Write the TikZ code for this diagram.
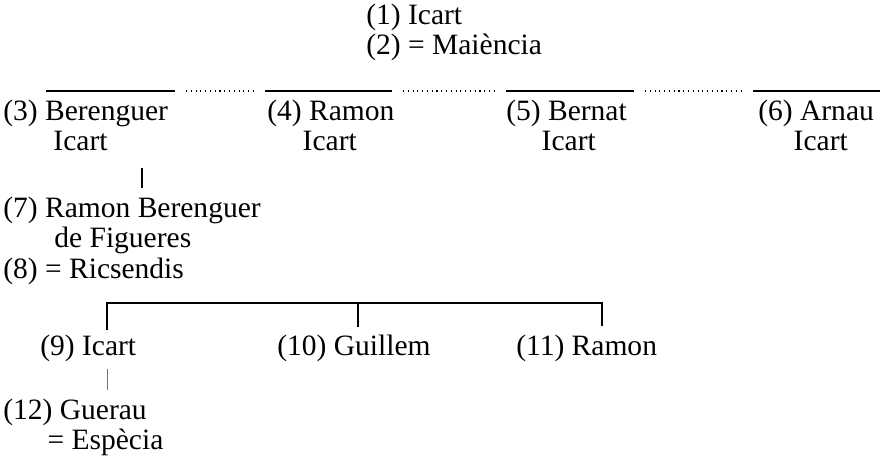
\documentclass[tikz,border=0pt]{standalone}
\usepackage{fontspec}
\setmainfont{Liberation Serif}
\usetikzlibrary{backgrounds}
\pgfdeclarelayer{edgelayer}
\pgfdeclarelayer{nodelayer}
\pgfsetlayers{edgelayer,nodelayer,main}
\tikzset{font=\fontsize{21}{21.34}\selectfont}
\tikzstyle{person}=[inner sep=0pt, anchor=north west, align=left]
\tikzstyle{bar}=[line width=1.3pt]
\tikzstyle{dots}=[line width=0.8pt, dash pattern=on 0.8pt off 2.6pt, shorten <=7.8pt, shorten >=7.8pt]
\tikzstyle{link}=[line width=0.9pt]

\begin{document}
\begin{tikzpicture}
	\useasboundingbox (0, 0) rectangle (22.05, -11.425);
	\begin{pgfonlayer}{nodelayer}
		\node [style=person] (n1) at (9.15, -0.09) {(1) Icart};
		\node [style=person] (n2) at (9.15, -0.84) {(2) = Maiència};
		\node [style=person] (n3) at (0.075, -2.49) {(3) Berenguer\\\hspace*{1.7em}Icart};
		\node [style=person] (n4) at (6.675, -2.49) {(4) Ramon\\\hspace*{1.2em}Icart};
		\node [style=person] (n5) at (12.65, -2.49) {(5) Bernat\\\hspace*{1.2em}Icart};
		\node [style=person] (n6) at (18.95, -2.49) {(6) Arnau\\\hspace*{1.2em}Icart};
		\node [style=person] (n7) at (0.075, -4.915) {(7) Ramon Berenguer\\\hspace*{1.73em}de Figueres};
		\node [style=person] (n8) at (0.075, -6.44) {(8) = Ricsendis};
		\node [style=person] (n9) at (1.0, -8.365) {(9) Icart};
		\node [style=person] (n10) at (6.925, -8.365) {(10) Guillem};
		\node [style=person] (n11) at (12.9, -8.365) {(11) Ramon};
		\node [style=person] (n12) at (0.075, -9.965) {(12) Guerau\\\hspace*{1.5em}= Espècia};
	\end{pgfonlayer}
	\begin{pgfonlayer}{edgelayer}
		% brothers
		\coordinate (s3a) at (1.15, -2.275);
		\coordinate (s3b) at (4.375, -2.275);
		\coordinate (s4a) at (6.625, -2.275);
		\coordinate (s4b) at (9.8, -2.275);
		\coordinate (s5a) at (12.65, -2.275);
		\coordinate (s5b) at (15.85, -2.275);
		\coordinate (s6a) at (18.825, -2.275);
		\coordinate (s6b) at (22.0, -2.275);
		\draw [style=bar] (s3a) to (s3b);
		\draw [style=bar] (s4a) to (s4b);
		\draw [style=bar] (s5a) to (s5b);
		\draw [style=bar] (s6a) to (s6b);
		\draw [style=dots] (s3b) to (s4a);
		\draw [style=dots] (s4b) to (s5a);
		\draw [style=dots] (s5b) to (s6a);
		% descent
		\coordinate (t3) at (3.55, -4.2);
		\coordinate (t7) at (3.55, -4.7);
		\draw [line width=1.2pt] (t3) to (t7);
		\coordinate (k) at (0, -7.575);
		\coordinate (k9) at (2.675, -8.25);
		\coordinate (k10) at (8.95, -8.175);
		\coordinate (k11) at (15.05, -8.15);
		\draw [style=link] (k9) to (k9 |- k) to (k -| k11) to (k11);
		\draw [style=link] (k10) to (k10 |- k);
		\coordinate (t9) at (2.675, -9.225);
		\coordinate (t12) at (2.675, -9.75);
		\draw [line width=0.7pt, black!55] (t9) to (t12);
	\end{pgfonlayer}
\end{tikzpicture}
\end{document}
